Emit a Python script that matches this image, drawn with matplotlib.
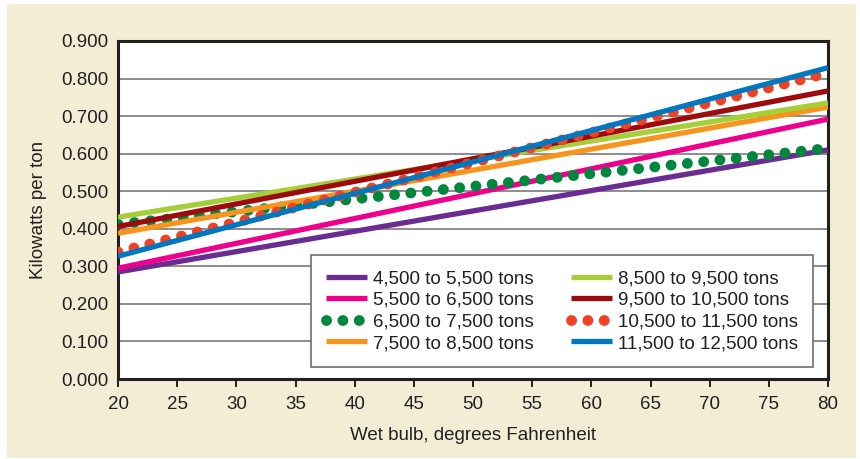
import matplotlib
matplotlib.use("Agg")
import matplotlib.pyplot as plt
from matplotlib.patches import Rectangle

plt.rcParams['font.family'] = ['Liberation Sans', 'DejaVu Sans']

x = [20, 80]
labels = ["4,500 to 5,500 tons", "5,500 to 6,500 tons", "6,500 to 7,500 tons",
          "7,500 to 8,500 tons", "8,500 to 9,500 tons", "9,500 to 10,500 tons",
          "10,500 to 11,500 tons", "11,500 to 12,500 tons"]
s4500 = [0.285, 0.610]
s5500 = [0.295, 0.692]
s6500 = [0.412, 0.614]
s7500 = [0.388, 0.724]
s8500 = [0.431, 0.735]
s9500 = [0.406, 0.767]
s10500 = [0.338, 0.815]
s11500 = [0.327, 0.829]
series = [s4500, s5500, s6500, s7500, s8500, s9500, s10500, s11500]
colors = ["#6B2C91", "#EC008C", "#00873E", "#F7941D", "#A6CE39", "#9E0B0F", "#EF4123", "#0077C0"]
dotted = [False, False, True, False, False, False, True, False]

xticks = [20, 25, 30, 35, 40, 45, 50, 55, 60, 65, 70, 75, 80]
yticks = [0.0, 0.1, 0.2, 0.3, 0.4, 0.5, 0.6, 0.7, 0.8, 0.9]

txt = "#231F20"
fs = 13.5
fig = plt.figure(figsize=(8.6, 4.59), dpi=100, facecolor="white")
bg = Rectangle((7/860, 1/459), 849/860, 454/459, transform=fig.transFigure,
               facecolor="#F3EDD6", edgecolor="none", zorder=-10)
fig.add_artist(bg)
ax = fig.add_axes([118/860, (459-379)/459, 710/860, 338/459])
ax.set_zorder(2)
ax.set_facecolor("white")

for vals, c, d, lab in zip(series, colors, dotted, labels):
    if d:
        ax.plot(x, vals, color=c, lw=7.8, ls=(0, (0.01, 1.5)), dash_capstyle='round',
                label=lab, zorder=3)
    else:
        ax.plot(x, vals, color=c, lw=3.8, solid_capstyle='butt', label=lab, zorder=3)

ax.set_xlim(20, 80)
ax.set_ylim(0, 0.9)
ax.set_xticks(xticks)
ax.set_yticks(yticks)
ax.set_yticklabels([f"{v:.3f}" for v in yticks])
ax.grid(axis='y', color="#8C8C8C", lw=1.4, zorder=1)
ax.set_axisbelow(True)
for sp in ax.spines.values():
    sp.set_color(txt)
    sp.set_linewidth(2.2)
ax.tick_params(axis='x', direction='out', length=6, width=1.4, color=txt, labelsize=fs,
               labelcolor=txt, pad=6)
ax.tick_params(axis='y', length=0, labelsize=fs, labelcolor=txt, pad=7)
ax.set_xlabel("Wet bulb, degrees Fahrenheit", fontsize=fs, color=txt, labelpad=10)
ax.set_ylabel("Kilowatts per ton", fontsize=fs, color=txt, labelpad=10)

leg = ax.legend(ncol=2, loc='lower right', bbox_to_anchor=(0.979, 0.0355), fontsize=fs,
                frameon=True, fancybox=False, edgecolor="#6D6E71", framealpha=1,
                handlelength=2.2, labelspacing=0.24, columnspacing=2.0, handletextpad=0.3,
                borderpad=0.8, borderaxespad=0)
leg.get_frame().set_linewidth(1.2)
for t in leg.get_texts():
    t.set_color(txt)
leg.set_zorder(5)

fig.savefig("out.png", dpi=100, facecolor=fig.get_facecolor())
